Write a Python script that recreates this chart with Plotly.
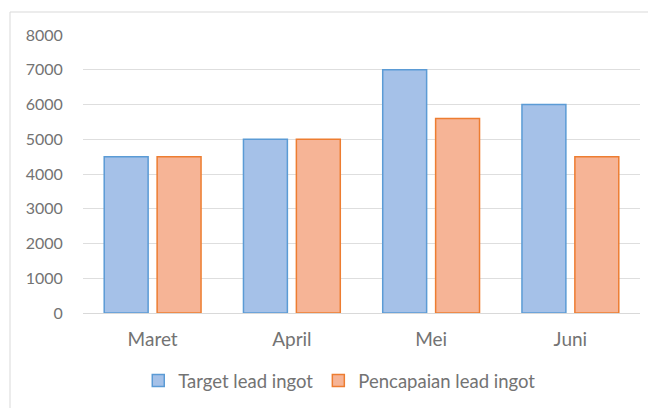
import plotly.graph_objects as go

categories = ["Maret", "April", "Mei", "Juni"]
target = [4500, 5000, 7000, 6000]
pencapaian = [4500, 5000, 5600, 4500]
series_names = ["Target lead ingot", "Pencapaian lead ingot"]

# page body has 8px default margin; layout numbers are in figure pixels
W, H = 656, 408
L, T = 75, 27
R = W - 632
B = H - 305
pw, ph = W - L - R, H - T - B

fig = go.Figure()
fig.add_bar(x=categories, y=target, name=series_names[0],
            marker=dict(color="#a5c1e8", line=dict(color="#5b9bd5", width=1.5)))
fig.add_bar(x=categories, y=pencapaian, name=series_names[1],
            marker=dict(color="#f6b496", line=dict(color="#ed7d31", width=1.5)))

txt = "#737373"
font = "Lato, Open Sans, sans-serif"
fig.update_layout(
    width=W, height=H,
    margin=dict(l=L, r=R, t=T, b=B, autoexpand=False),
    paper_bgcolor="white", plot_bgcolor="white",
    barmode="group", bargap=0.24, bargroupgap=0.17,
    font=dict(family=font, size=16, color=txt),
    legend=dict(orientation="h", x=0.461, xanchor="center", y=(305 - 373) / ph, yanchor="middle",
                font=dict(size=18.5, color=txt), itemwidth=30, traceorder="normal"),
    xaxis=dict(showgrid=False, showline=True, linecolor="#d9d9d9", linewidth=1, automargin=False,
               ticks="outside", ticklen=9, tickcolor="rgba(0,0,0,0)",
               tickfont=dict(size=19, color=txt)),
    yaxis=dict(range=[0, 8000], dtick=1000, showgrid=True, gridcolor="#dedede", gridwidth=1,
               zeroline=False, showline=False, ticks="outside", ticklen=16, automargin=False,
               tickcolor="rgba(0,0,0,0)",
               tickfont=dict(size=16, color=txt)),
    shapes=[dict(type="rect", xref="paper", yref="paper",
                 x0=(2 - L) / pw, x1=(660 - L) / pw,
                 y0=(305 - 420) / ph, y1=(305 - 4) / ph,
                 line=dict(color="#d9d9d9", width=1), fillcolor="rgba(0,0,0,0)", layer="below")],
)

fig.write_html("out.html")
